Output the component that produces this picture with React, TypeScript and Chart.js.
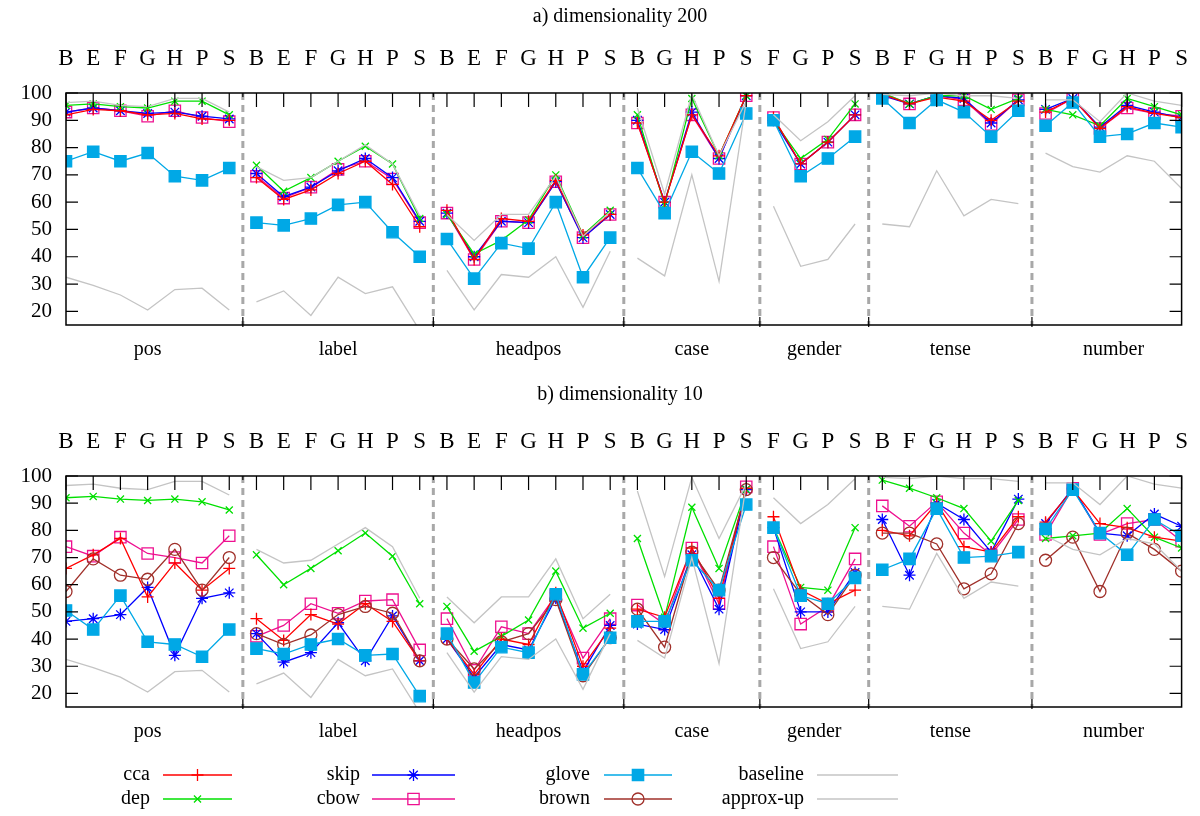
import React, { useEffect, useRef } from "react";
import { Chart, registerables } from "chart.js";
Chart.register(...registerables);

const groupNames = ["pos", "label", "headpos", "case", "gender", "tense", "number"];
const groupCats = [
  ["B", "E", "F", "G", "H", "P", "S"],
  ["B", "E", "F", "G", "H", "P", "S"],
  ["B", "E", "F", "G", "H", "P", "S"],
  ["B", "G", "H", "P", "S"],
  ["F", "G", "P", "S"],
  ["B", "F", "G", "H", "P", "S"],
  ["B", "F", "G", "H", "P", "S"],
];
const catLabels = groupCats.flat();
const yTicks = [20, 30, 40, 50, 60, 70, 80, 90, 100];

// shared gray reference lines
const baseline = [32.5, 29.5, 26, 20.5, 28, 28.5, 20.5, 23.5, 27.5, 18.5, 32.5, 26.5, 29, 13, 35, 20.5, 33.5, 32.5, 40, 21.5, 42, 39.5, 33, 70, 31, 97, 58.5, 36.5, 39, 52, 52, 51, 71.5, 55, 61, 59.5, 78, 73, 71, 77, 75, 65];
const approxUp = [96.5, 97, 95.5, 95, 98, 98, 93, 73, 68, 69, 75, 81, 74, 55, 55.5, 46, 55.5, 55.5, 69.5, 47.5, 56.5, 94.5, 63, 99.5, 77, 97, 92, 82.5, 89.5, 99, 99.5, 99, 100, 99, 99, 98, 97.5, 97.5, 89.5, 100, 97, 95.5];

// a) dimensionality 200
const aCca = [92, 94, 93.5, 92, 92.5, 90.5, 90, 69, 61, 64.5, 70.5, 75, 66.5, 51, 57, 39, 54, 53, 68, 48, 55.5, 89, 60, 92, 77, 99, 91, 74, 82, 92, 99.5, 96, 98.5, 97, 90, 97, 93, 98, 87, 95, 92.5, 91];
const aDep = [95.5, 96, 95, 94.5, 97, 97, 92, 73.5, 64, 69, 75, 80.5, 74, 54, 55.5, 41, 46, 53.5, 70, 48, 57, 92, 59, 98, 77, 99, 90, 76, 83, 96, 100, 96, 99, 99, 94, 98, 94, 92, 88, 98, 95, 92];
const aSkip = [93, 94.5, 93.5, 92.5, 93, 91.5, 90.5, 70.5, 62, 65.5, 71.5, 76, 69, 53, 56, 40, 53, 52.5, 67.5, 47, 55.5, 90, 60, 93, 76, 99, 90, 74, 82, 92, 99, 96, 99, 98, 89, 97.5, 94, 98, 87.5, 95.5, 93, 91];
const aCbow = [93, 94.5, 93.5, 91.5, 93.5, 91, 89.5, 69.5, 61.5, 65.5, 72, 75, 68.5, 52.5, 56, 39, 53, 52.5, 67.5, 47, 55.5, 89, 60, 92, 76, 99, 91, 74, 82, 92, 100, 96, 99, 97.5, 88.5, 97.5, 92.5, 98, 87, 94.5, 92.5, 91.5];
const aGlove = [75, 78.5, 75, 78, 69.5, 68, 72.5, 52.5, 51.5, 54, 59, 60, 49, 40, 46.5, 32, 45, 43, 60, 32.5, 47, 72.5, 56, 78.5, 70.5, 92.5, 90, 69.5, 76, 84, 98, 89, 97.5, 93, 84, 93.5, 88, 96.5, 84, 85, 89, 87.5];

// b) dimensionality 10
const bCca = [66, 71, 77, 55.5, 68, 58, 66, 47.5, 39.5, 49, 45.5, 53, 46.5, 32, 40, 27, 40, 38, 57, 30, 44, 51, 48, 73.5, 55, 95.5, 85, 58, 53, 58, 80, 78, 90, 74, 72, 85, 83, 95, 82.5, 81, 77.5, 76];
const bDep = [92, 92.5, 91.5, 91, 91.5, 90.5, 87.5, 71, 60, 66, 72.5, 79, 70.5, 53, 52, 35.5, 41, 47, 65, 44, 49.5, 77, 48, 88.5, 66, 95, 81, 59, 58, 81, 98.5, 95.5, 92, 88, 76, 91, 77, 78, 79, 88, 77.5, 73.5];
const bSkip = [46.5, 47.5, 49, 59, 34, 55, 57, 42, 31.5, 35, 46, 32, 48.5, 32, 40, 26, 38, 36, 55, 28, 45, 45.5, 43.5, 71, 51, 95, 81, 50, 50, 64.5, 84, 63.5, 90, 84, 72, 91.5, 82.5, 95.5, 79, 78, 86, 81.5];
const bCbow = [74, 70.5, 77.5, 71.5, 70, 68, 78, 41, 45, 53, 49.5, 54, 54.5, 36, 47.5, 28.5, 44.5, 42, 56, 33, 47.5, 52.5, 45.5, 73.5, 53, 96, 74, 45.5, 52, 69.5, 89, 81.5, 90.5, 79, 71, 84, 78.5, 95.5, 78.5, 82.5, 84, 76];
const bGlove = [50.5, 43.5, 56, 39, 38, 33.5, 43.5, 36.5, 34.5, 38, 40, 34, 34.5, 19, 42, 24, 37, 35, 56.5, 27, 40.5, 46.5, 46.5, 69, 58, 89.5, 81, 56, 53, 62.5, 65.5, 69.5, 88, 70, 70.5, 72, 80.5, 95, 79, 71, 84, 78];
const bBrown = [57.5, 69.5, 63.5, 62, 73, 58, 70, 42, 38, 41.5, 49, 52, 49.5, 32, 40, 29, 39, 42, 54.5, 26.5, 40.5, 51, 37, 72, 58, 95, 70, 56.5, 49, 63.5, 79, 79, 75, 58.5, 64, 82.5, 69, 77.5, 57.5, 79, 73, 65];

const FONT = "'Liberation Serif', 'DejaVu Serif', serif";
const GRAY = "#c4c4c4";
const styles: Record<string, any> = {
  cca: { color: "#ff0000", pointStyle: "cross", r: 6, fill: false },
  dep: { color: "#00e000", pointStyle: "crossRot", r: 5, fill: false },
  skip: { color: "#0000ff", pointStyle: "star", r: 6, fill: false },
  cbow: { color: "#ee1090", pointStyle: "rect", r: 8, fill: false },
  glove: { color: "#00a8e6", pointStyle: "rect", r: 8, fill: true },
  brown: { color: "#a0302a", pointStyle: "circle", r: 6, fill: false },
  baseline: { color: GRAY, pointStyle: false, r: 0, fill: false },
  "approx-up": { color: GRAY, pointStyle: false, r: 0, fill: false },
};

const separators: number[] = [];
const groupCenters: number[] = [];
{
  let i = 0;
  groupCats.forEach((g, gi) => {
    groupCenters.push(i + (g.length - 1) / 2);
    i += g.length;
    if (gi < groupCats.length - 1) separators.push(i - 0.5);
  });
}

function pts(vals: number[]) {
  const out: any[] = [];
  vals.forEach((v, i) => {
    if (separators.includes(i - 0.5)) out.push({ x: i - 0.5, y: null });
    out.push({ x: i, y: v });
  });
  return out;
}

function ds(name: string, vals: number[]) {
  const s = styles[name];
  return {
    label: name,
    data: pts(vals),
    borderColor: s.color,
    backgroundColor: s.fill ? s.color : "rgba(0,0,0,0)",
    pointBorderColor: s.color,
    pointStyle: s.pointStyle,
    pointRadius: s.r,
    pointBorderWidth: 1.3,
    borderWidth: 1.3,
    spanGaps: false,
    tension: 0,
  };
}

function drawMarker(ctx: CanvasRenderingContext2D, name: string, x: number, y: number) {
  const s = styles[name];
  ctx.save();
  ctx.strokeStyle = s.color;
  ctx.fillStyle = s.color;
  ctx.lineWidth = 1.3;
  const r = s.r;
  ctx.beginPath();
  if (s.pointStyle === "cross" || s.pointStyle === "star") {
    ctx.moveTo(x - r, y); ctx.lineTo(x + r, y); ctx.moveTo(x, y - r); ctx.lineTo(x, y + r);
  }
  if (s.pointStyle === "crossRot" || s.pointStyle === "star") {
    const d = r * Math.SQRT1_2;
    ctx.moveTo(x - d, y - d); ctx.lineTo(x + d, y + d); ctx.moveTo(x - d, y + d); ctx.lineTo(x + d, y - d);
  }
  if (s.pointStyle === "rect") {
    const d = r * Math.SQRT1_2;
    ctx.rect(x - d, y - d, 2 * d, 2 * d);
    if (s.fill) ctx.fill();
  }
  if (s.pointStyle === "circle") ctx.arc(x, y, r, 0, Math.PI * 2);
  ctx.stroke();
  ctx.restore();
}

const framePlugin = {
  id: "frame",
  afterDatasetsDraw(chart: any, _a: any, opts: any) {
    const { ctx, chartArea: ca, scales } = chart;
    const xs = scales.x, ys = scales.y;
    ctx.save();
    ctx.strokeStyle = "#a8a8a8";
    ctx.lineWidth = 3;
    ctx.setLineDash([7, 5]);
    separators.forEach((s) => {
      const x = xs.getPixelForValue(s);
      ctx.beginPath(); ctx.moveTo(x, ca.top); ctx.lineTo(x, ca.bottom); ctx.stroke();
    });
    ctx.setLineDash([]);
    ctx.strokeStyle = "#000";
    ctx.lineWidth = 1.5;
    ctx.strokeRect(ca.left, ca.top, ca.right - ca.left, ca.bottom - ca.top);
    ctx.lineWidth = 1.2;
    ctx.beginPath();
    yTicks.forEach((v) => {
      const y = ys.getPixelForValue(v);
      ctx.moveTo(ca.left, y); ctx.lineTo(ca.left + 12, y);
      ctx.moveTo(ca.right, y); ctx.lineTo(ca.right - 12, y);
    });
    catLabels.forEach((_c, i) => {
      const x = xs.getPixelForValue(i);
      ctx.moveTo(x, ca.top); ctx.lineTo(x, ca.top + 14);
    });
    separators.forEach((s) => {
      const x = xs.getPixelForValue(s);
      ctx.moveTo(x, ca.bottom - 8); ctx.lineTo(x, ca.bottom + 2);
      ctx.moveTo(x, ca.top); ctx.lineTo(x, ca.top + 4);
    });
    ctx.stroke();
    ctx.fillStyle = "#000";
    ctx.font = `20px ${FONT}`;
    ctx.textAlign = "center";
    ctx.textBaseline = "middle";
    groupNames.forEach((g, gi) => {
      ctx.fillText(g, xs.getPixelForValue(groupCenters[gi]), ca.bottom + 25);
    });
    ctx.fillText(opts.title, 620, opts.titleY);
    if (opts.legend) {
      const cols = [
        { right: 150, l0: 163, l1: 232 },
        { right: 360, l0: 372, l1: 455 },
        { right: 590, l0: 604, l1: 672 },
        { right: 804, l0: 817, l1: 898 },
      ];
      const entries = [
        ["cca", "dep"], ["skip", "cbow"], ["glove", "brown"], ["baseline", "approx-up"],
      ];
      entries.forEach((col, ci) => {
        col.forEach((name, ri) => {
          const y = ca.bottom + 68 + ri * 24;
          const c = cols[ci];
          ctx.fillStyle = "#000";
          ctx.textAlign = "right";
          ctx.fillText(name, c.right, y);
          ctx.strokeStyle = styles[name].color;
          ctx.lineWidth = 1.3;
          ctx.beginPath(); ctx.moveTo(c.l0, y); ctx.lineTo(c.l1, y); ctx.stroke();
          if (styles[name].pointStyle) drawMarker(ctx, name, (c.l0 + c.l1) / 2, y);
        });
      });
    }
    ctx.restore();
  },
};

function makeConfig(datasets: any[], topH: number, bottomPad: number, extra: any) {
  return {
    type: "line",
    data: { datasets },
    plugins: [framePlugin],
    options: {
      animation: false,
      responsive: false,
      events: [],
      layout: { padding: { left: 0, right: 15, top: 0, bottom: bottomPad } },
      plugins: { legend: { display: false }, tooltip: { enabled: false }, frame: extra },
      scales: {
        x: {
          type: "linear",
          position: "top",
          min: 0,
          max: catLabels.length - 1,
          grid: { display: false },
          border: { display: false },
          afterBuildTicks: (s: any) => { s.ticks = catLabels.map((_c, i) => ({ value: i })); },
          afterFit: (s: any) => { s.height = topH; },
          ticks: {
            autoSkip: false,
            maxRotation: 0,
            color: "#000",
            font: { family: FONT, size: 23 },
            padding: 12,
            callback: (v: number) => catLabels[v] ?? "",
          },
        },
        y: {
          min: 15,
          max: 100,
          grid: { display: false },
          border: { display: false },
          afterBuildTicks: (s: any) => { s.ticks = yTicks.map((v) => ({ value: v })); },
          afterFit: (s: any) => { s.width = 66; },
          ticks: { autoSkip: false, color: "#000", font: { family: FONT, size: 21 }, padding: 6 },
        },
      },
    },
  };
}

export default function App() {
  const refA = useRef<HTMLCanvasElement>(null);
  const refB = useRef<HTMLCanvasElement>(null);
  useEffect(() => {
    const cA = new Chart(refA.current as any, makeConfig([
      ds("approx-up", approxUp), ds("baseline", baseline),
      ds("glove", aGlove), ds("cca", aCca), ds("dep", aDep), ds("skip", aSkip), ds("cbow", aCbow),
    ], 93, 55, { title: "a) dimensionality 200", titleY: 17, legend: false }) as any);
    const cB = new Chart(refB.current as any, makeConfig([
      ds("approx-up", approxUp), ds("baseline", baseline),
      ds("glove", bGlove), ds("brown", bBrown), ds("cca", bCca), ds("dep", bDep), ds("skip", bSkip), ds("cbow", bCbow),
    ], 96, 109, { title: "b) dimensionality 10", titleY: 15, legend: true }) as any);
    return () => { cA.destroy(); cB.destroy(); };
  }, []);
  return (
    <div style={{ position: "absolute", left: 0, top: 0, width: 1200, height: 816, background: "#fff" }}>
      <canvas ref={refA} width={1200} height={380} style={{ position: "absolute", left: 0, top: 0 }} />
      <canvas ref={refB} width={1200} height={436} style={{ position: "absolute", left: 0, top: 380 }} />
    </div>
  );
}
